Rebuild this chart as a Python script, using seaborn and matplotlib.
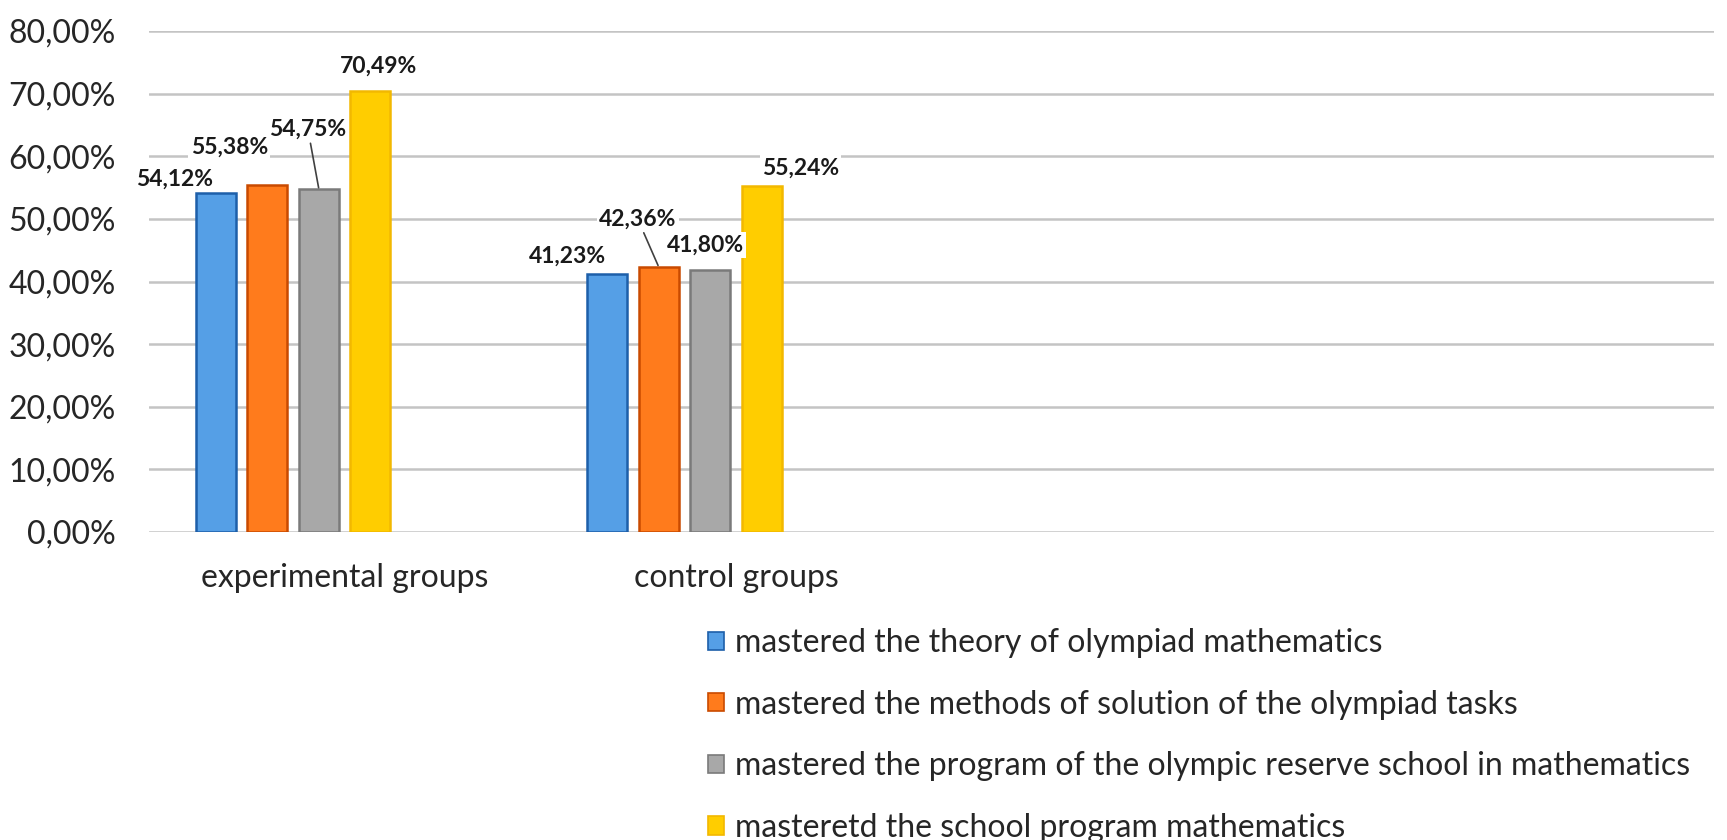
import matplotlib
matplotlib.use("Agg")
import matplotlib.pyplot as plt
from matplotlib.patches import Patch
from matplotlib.ticker import FuncFormatter
import pandas as pd
import seaborn as sns

# data (percent)
groups = ["experimental groups", "control groups"]
empty_slots = ["", " "]
series = [
    "mastered the theory of olympiad mathematics",
    "mastered the methods of solution of the olympiad tasks",
    "mastered the program of the olympic reserve school in mathematics",
    "masteretd the school program mathematics",
]
theory = [54.12, 41.23]
methods = [55.38, 42.36]
program = [54.75, 41.80]
school = [70.49, 55.24]

fills = ["#559fe6", "#ff7b1c", "#a8a8a8", "#ffcd00"]
edges = ["#1d5fa9", "#c94a00", "#7a7a7a", "#f2b800"]

# label offsets (px) from the bar top: per series, per group
label_dx = [[-41, -40], [-38, -21], [-11, -5], [8, 39]]
label_dy = [[14, 18], [38, 48], [60, 25], [24, 18]]
leaders = [[False, False], [False, True], [True, False], [False, False]]

rows = []
for name, vals in zip(series, [theory, methods, program, school]):
    for g, v in zip(groups, vals):
        rows.append({"group": g, "series": name, "value": v})
df = pd.DataFrame(rows)

sns.set_style("white")
plt.rcParams["font.family"] = ["Lato", "DejaVu Sans"]

fig = plt.figure(figsize=(17.27, 8.4), dpi=100)
ax = fig.add_axes([149 / 1727, 1 - 532 / 840, (1714 - 149) / 1727, (532 - 31) / 840])

# two hidden hue slots keep the Excel-like cluster spacing
hue_order = series + ["pad1", "pad2"]
sns.barplot(
    data=df, x="group", y="value", hue="series",
    order=groups + empty_slots, hue_order=hue_order,
    palette=fills + ["white", "white"],
    width=0.79, gap=0.22, legend=False, ax=ax,
    linewidth=1.8, saturation=1,
)

px = 0.72  # pixel -> points
for i, cont in enumerate(ax.containers[:4]):
    for j, bar in enumerate(cont.patches):
        bar.set_edgecolor(edges[i])
        xc = bar.get_x() + bar.get_width() / 2
        h = bar.get_height()
        arrow = dict(arrowstyle="-", color="#404040", lw=1.2, shrinkA=1, shrinkB=1) if leaders[i][j] else None
        ax.annotate(
            f"{h:.2f}%".replace(".", ","), xy=(xc, h),
            xytext=(label_dx[i][j] * px, label_dy[i][j] * px), textcoords="offset points",
            ha="center", va="center", fontsize=16.5, fontweight="bold", color="#1a1a1a",
            bbox=dict(boxstyle="square,pad=0.1", fc="white", ec="none"),
            arrowprops=arrow, zorder=5,
        )

ax.set_ylim(0, 80)
ax.set_xlim(-0.5, 3.5)
ax.set_yticks(range(0, 81, 10))
ax.yaxis.set_major_formatter(FuncFormatter(lambda v, _: f"{v:.2f}%".replace(".", ",")))
ax.grid(axis="y", color="#c4c4c4", lw=1.8)
ax.set_axisbelow(True)
sns.despine(ax=ax, left=True, bottom=True)
ax.tick_params(axis="y", length=0, pad=24, labelsize=23, labelcolor="#262626")
ax.tick_params(axis="x", length=0, pad=22, labelsize=23, labelcolor="#262626")
ax.set_xlabel("")
ax.set_ylabel("")

handles = [Patch(facecolor=f, edgecolor=e, lw=1.2) for f, e in zip(fills, edges)]
fig.legend(
    handles, series, loc="upper left", bbox_to_anchor=(708 / 1727, 1 - 628 / 840),
    frameon=False, fontsize=23, handlelength=0.5, handleheight=0.5,
    handletextpad=0.35, labelspacing=0.99, borderpad=0, borderaxespad=0,
    labelcolor="#262626",
)

fig.savefig("out.png", dpi=100)
